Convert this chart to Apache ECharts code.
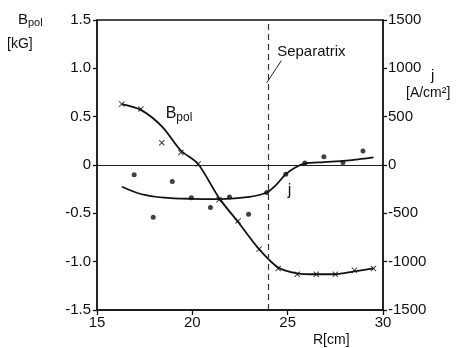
<!DOCTYPE html>
<html>
<head>
<meta charset="utf-8">
<script src="https://cdn.jsdelivr.net/npm/echarts@6/dist/echarts.min.js"></script>
<style>
html,body{margin:0;padding:0;background:#fff;}
#c{width:472px;height:348px;}
</style>
</head>
<body>
<div id="c"></div>
<script>
// ---- data ----
const xTicks = [15, 20, 25, 30];
const leftTicks = [-1.5, -1.0, -0.5, 0, 0.5, 1.0, 1.5];
const rightTicks = [-1500, -1000, -500, 0, 500, 1000, 1500];

// B_pol measured points (crosses)
const rCross = [16.3, 17.3, 18.4, 19.4, 20.3, 21.4, 22.4, 23.5, 24.5, 25.5, 26.5, 27.5, 28.5, 29.5];
const bCross = [0.63, 0.58, 0.23, 0.13, 0.01, -0.36, -0.58, -0.87, -1.07, -1.13, -1.13, -1.13, -1.09, -1.07];

// B_pol fitted curve
const rCurveB = [16.3, 17.3, 18.4, 19.4, 20.3, 21.4, 22.4, 23.5, 24.5, 25.5, 26.5, 27.5, 28.5, 29.5];
const bCurve = [0.63, 0.57, 0.40, 0.15, 0.01, -0.34, -0.59, -0.87, -1.06, -1.12, -1.13, -1.13, -1.10, -1.07];

// j measured points (dots)
const rDot = [16.95, 17.95, 18.95, 19.95, 20.95, 21.95, 22.95, 23.9, 24.9, 25.9, 26.9, 27.9, 28.95];
const jDot = [-100, -540, -170, -340, -440, -330, -510, -285, -95, 20, 85, 25, 145];

// j fitted curve
const rCurveJ = [16.3, 17.3, 18.5, 20.0, 21.5, 23.0, 23.9, 24.4, 24.9, 25.4, 25.9, 26.9, 27.9, 28.7, 29.5];
const jCurve = [-225, -300, -338, -350, -352, -330, -285, -205, -95, -25, 15, 30, 42, 58, 78];

const separatrixR = 24;

// ---- chart ----
const FONT = 'Liberation Sans';
const chart = echarts.init(document.getElementById('c'), null, {renderer: 'canvas'});
const zip = (a, b) => a.map((v, i) => [v, b[i]]);
const crossPath = 'path://M0,1.2L1.2,0L5,3.8L8.8,0L10,1.2L6.2,5L10,8.8L8.8,10L5,6.2L1.2,10L0,8.8L3.8,5Z';

const option = {
  animation: false,
  backgroundColor: '#fff',
  textStyle: {fontFamily: FONT, color: '#111'},
  grid: {left: 97, right: 89, top: 20, bottom: 38, show: true, borderColor: '#111', borderWidth: 1.3, containLabel: false},
  xAxis: {
    type: 'value', min: 15, max: 30, interval: 5,
    axisLine: {onZero: false, lineStyle: {color: '#111', width: 1.5}},
    axisTick: {show: true, inside: false, length: 5, lineStyle: {color: '#111', width: 1.3}},
    axisLabel: {color: '#111', fontSize: 15, fontFamily: FONT, margin: 5},
    splitLine: {show: false}
  },
  yAxis: [
    {
      type: 'value', min: -1.5, max: 1.5, interval: 0.5, position: 'left',
      axisLine: {show: true, lineStyle: {color: '#111', width: 1.5}},
      axisTick: {show: true, length: 4, lineStyle: {color: '#111', width: 1.3}},
      axisLabel: {color: '#111', fontSize: 15, fontFamily: FONT, margin: 6,
        formatter: v => (Math.abs(v) < 1e-9 ? '0' : v.toFixed(1))},
      splitLine: {show: false}
    },
    {
      type: 'value', min: -1500, max: 1500, interval: 500, position: 'right',
      axisLine: {show: true, lineStyle: {color: '#111', width: 1.5}},
      axisTick: {show: true, length: 4, lineStyle: {color: '#111', width: 1.3}},
      axisLabel: {color: '#111', fontSize: 15, fontFamily: FONT, margin: 5,
        formatter: v => String(v)},
      splitLine: {show: false}
    }
  ],
  series: [
    {
      name: 'Bpol curve', type: 'line', yAxisIndex: 0,
      data: zip(rCurveB, bCurve), smooth: 0.3,
      showSymbol: false, symbol: 'none',
      lineStyle: {color: '#111', width: 1.8},
      markLine: {
        silent: true, symbol: ['none', 'none'], animation: false,
        label: {show: false},
        data: [
          [{coord: [15, 0], lineStyle: {type: 'solid', width: 1, color: '#222'}}, {coord: [30, 0]}],
          [{coord: [separatrixR, -1.5], lineStyle: {type: [6, 4], width: 1.2, color: '#333'}}, {coord: [separatrixR, 1.5]}],
          [{coord: [24.67, 1.08], lineStyle: {type: 'solid', width: 1, color: '#222'}}, {coord: [23.9, 0.85]}]
        ]
      },
      markPoint: {
        silent: true, symbol: 'circle', symbolSize: 0, animation: false,
        data: [
          {coord: [24.45, 1.17], label: {show: true, position: 'right', distance: 0,
            formatter: 'Separatrix', color: '#111', fontSize: 15, fontFamily: FONT}},
          {coord: [18.6, 0.53], label: {show: true, position: 'right', distance: 0,
            formatter: '{b|B}{s|pol}', rich: {
              b: {fontSize: 16, fontFamily: FONT, color: '#111'},
              s: {fontSize: 12, fontFamily: FONT, color: '#111', verticalAlign: 'bottom', padding: [8, 0, 0, 0]}
            }}},
          {coord: [25.0, -0.26], label: {show: true, position: 'right', distance: 0,
            formatter: 'j', color: '#111', fontSize: 16, fontFamily: FONT}}
        ]
      }
    },
    {
      name: 'Bpol points', type: 'scatter', yAxisIndex: 0,
      data: zip(rCross, bCross), symbol: crossPath, symbolSize: 6,
      itemStyle: {color: '#111'}
    },
    {
      name: 'j curve', type: 'line', yAxisIndex: 1,
      data: zip(rCurveJ, jCurve), smooth: 0.3,
      showSymbol: false, symbol: 'none',
      lineStyle: {color: '#111', width: 1.8}
    },
    {
      name: 'j points', type: 'scatter', yAxisIndex: 1,
      data: zip(rDot, jDot), symbol: 'circle', symbolSize: 5,
      itemStyle: {color: '#111'}
    }
  ],
  graphic: [
    {type: 'text', left: 18, top: 12, style: {
      text: '{b|B}{s|pol}', rich: {
        b: {fontSize: 15, fontFamily: FONT, fill: '#111'},
        s: {fontSize: 11, fontFamily: FONT, fill: '#111', padding: [7, 0, 0, 0]}
      }}},
    {type: 'text', left: 7, top: 37, style: {text: '[kG]', fontSize: 14, fontFamily: FONT, fill: '#111'}},
    {type: 'text', left: 431, top: 68, style: {text: 'j', fontSize: 15, fontFamily: FONT, fill: '#111'}},
    {type: 'text', left: 406, top: 86, style: {text: '[A/cm²]', fontSize: 14, fontFamily: FONT, fill: '#111'}},
    {type: 'text', left: 313, top: 333, style: {text: 'R[cm]', fontSize: 14, fontFamily: FONT, fill: '#111'}}
  ]
};
chart.setOption(option);
</script>
</body>
</html>
